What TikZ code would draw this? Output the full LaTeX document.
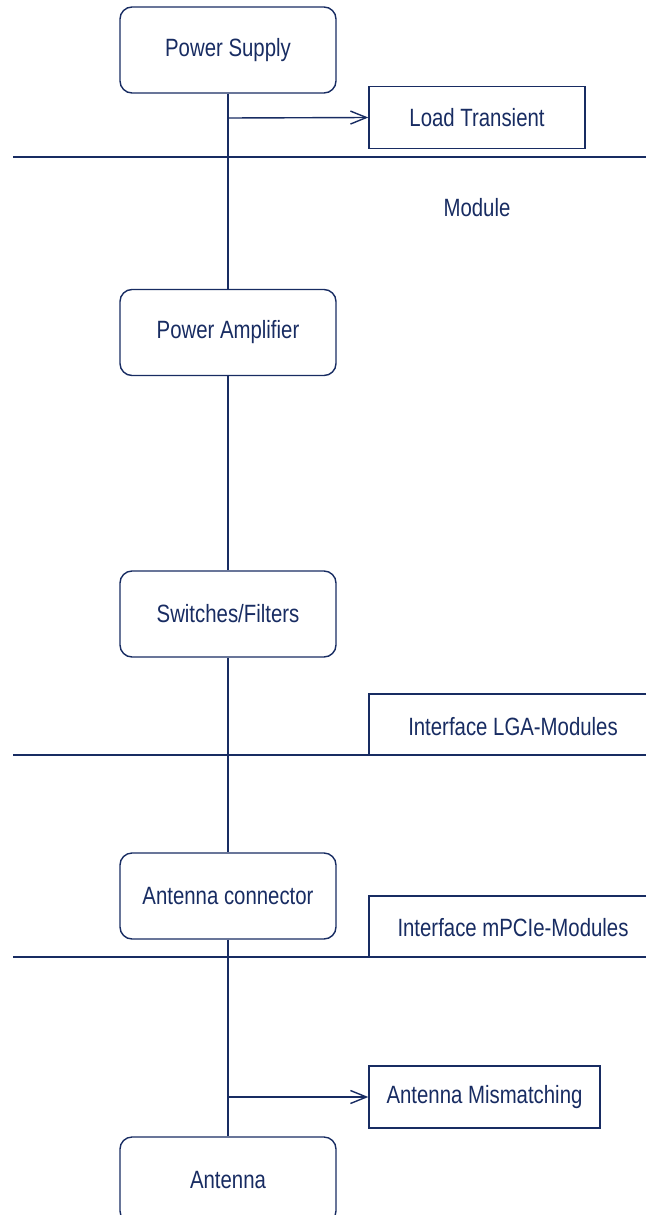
\documentclass[tikz,border=0pt]{standalone}
\usepackage{fontspec}
\setmainfont{Liberation Sans}[FakeStretch=0.815]
\usetikzlibrary{arrows.meta}
\definecolor{navy}{RGB}{24,44,98}

\begin{document}
\begin{tikzpicture}[x=1pt,y=-1pt,line width=1.4pt,draw=navy,text=navy,
    font=\fontsize{25}{30}\selectfont,
    >={Straight Barb[length=16pt,width=13pt]},
    stage/.style={draw,rounded corners=12pt,minimum width=216pt,minimum height=86pt,inner sep=0pt},
    effect/.style={draw,minimum height=62pt,inner sep=0pt}]
                        \clip(0,0) rectangle (646,1215);
                        \node[stage] (supply) at(228,50) {Power Supply};
                        \node[stage] (amp) at(228,332.5) {Power Amplifier};
                        \node[stage] (filt) at(228,614) {Switches/Filters};
                        \node[stage] (conn) at(228,896) {Antenna connector};
                        \node[stage] (ant) at(228,1180) {Antenna};
                        \node[effect,minimum width=216pt] (load) at(477,117.5) {Load Transient};
                        \node[effect,minimum width=231pt] (mism) at(484.5,1097) {Antenna Mismatching};
                        \coordinate (tapA) at(228,118);
                        \coordinate (tapB) at(228,1097);
                        \draw(supply)--(amp);
                        \draw(amp)--(filt);
                        \draw(filt)--(conn);
                        \draw(conn)--(ant);
                        \draw [->](tapA)--(load.west);
                        \draw [->](tapB)--(mism.west);
                        \draw(13,157)--(646,157);
                        \draw(13,755)--(646,755);
                        \draw(13,957)--(646,957);
                        \draw(646,694)--(369,694)--(369,755);
                        \draw(646,896)--(369,896)--(369,957);
                        \node (module) at(477,208) {Module};
                        \node (lga) at(513,727) {Interface LGA-Modules};
                        \node (mpcie) at(513,928) {Interface mPCIe-Modules};
                    \end{tikzpicture}
\end{document}
